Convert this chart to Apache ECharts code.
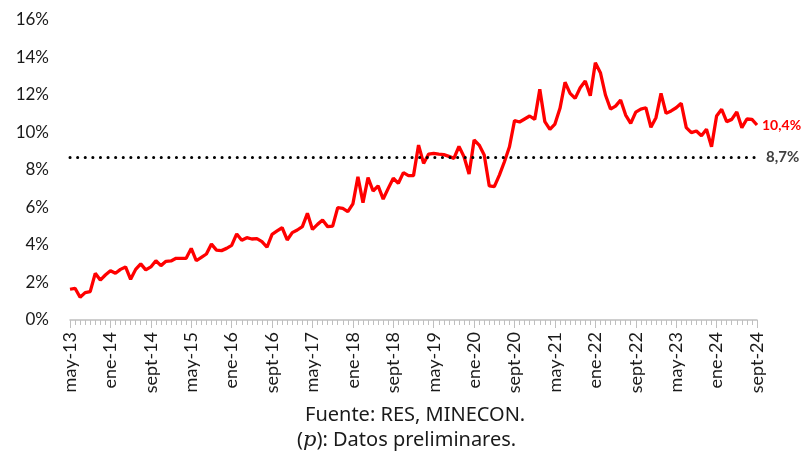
<!DOCTYPE html>
<html>
<head>
<meta charset="utf-8">
<script src="https://cdn.jsdelivr.net/npm/echarts@6/dist/echarts.min.js"></script>
<style>
  html, body { margin: 0; padding: 0; background: #fff; }
  #chart { width: 803px; height: 458px; }
</style>
</head>
<body>
<div id="chart"></div>
<script>
// meses: may-13 .. sept-24
var mesesNombre = ['ene', 'feb', 'mar', 'abr', 'may', 'jun', 'jul', 'ago', 'sept', 'oct', 'nov', 'dic'];
var meses = [];
for (var a = 2013; a <= 2024; a++) {
    for (var m = 0; m < 12; m++) {
        if (a === 2013 && m < 4) continue;
        if (a === 2024 && m > 8) continue;
        meses.push(mesesNombre[m] + '-' + String(a).slice(2));
    }
}

// tasa (%)
var tasa = [
    1.64, 1.69, 1.21, 1.46, 1.51, 2.49, 2.13, 2.40, 2.63, 2.49, 2.70, 2.83,
    2.17, 2.70, 2.99, 2.67, 2.83, 3.16, 2.90, 3.13, 3.15, 3.29, 3.29, 3.29,
    3.82, 3.16, 3.34, 3.52, 4.05, 3.73, 3.70, 3.82, 3.98, 4.59, 4.25, 4.39,
    4.32, 4.34, 4.18, 3.88, 4.57, 4.75, 4.92, 4.27, 4.66, 4.80, 4.98, 5.69,
    4.83, 5.10, 5.33, 4.98, 5.01, 5.99, 5.95, 5.78, 6.19, 7.64, 6.26, 7.59,
    6.88, 7.15, 6.45, 7.02, 7.56, 7.29, 7.86, 7.70, 7.70, 9.33, 8.35, 8.85,
    8.89, 8.85, 8.82, 8.73, 8.62, 9.26, 8.71, 7.79, 9.60, 9.33, 8.80, 7.15,
    7.11, 7.73, 8.44, 9.24, 10.63, 10.56, 10.72, 10.88, 10.70, 12.30, 10.58, 10.17,
    10.45, 11.29, 12.68, 12.09, 11.82, 12.39, 12.75, 11.96, 13.72, 13.19, 12.00, 11.25,
    11.41, 11.73, 10.93, 10.49, 11.09, 11.25, 11.32, 10.28, 10.79, 12.09, 11.02, 11.15,
    11.32, 11.56, 10.26, 9.99, 10.08, 9.83, 10.17, 9.24, 10.88, 11.24, 10.58, 10.70,
    11.09, 10.26, 10.72, 10.70, 10.40
];

var promedio = 8.7;
var yTicks = [0, 2, 4, 6, 8, 10, 12, 14, 16];

var chart = echarts.init(document.getElementById('chart'));

var option = {
    backgroundColor: '#fff',
    animation: false,
    grid: { left: 70, right: 46, top: 20, bottom: 138 },
    xAxis: [{
        type: 'category',
        data: meses,
        boundaryGap: false,
        axisLine: { lineStyle: { color: '#bfbfbf', width: 1.5 } },
        axisTick: { interval: 0, length: 5, lineStyle: { color: '#bfbfbf' } },
        axisLabel: {
            interval: 7,
            rotate: 90,
            margin: 12,
            color: '#1a1a1a',
            fontSize: 18,
            fontFamily: 'Lato'
        }
    }, {
        type: 'category',
        data: meses,
        boundaryGap: false,
        position: 'bottom',
        axisLine: { show: false },
        axisTick: { interval: 7, length: 8, lineStyle: { color: '#bfbfbf' } },
        axisLabel: { show: false }
    }],
    yAxis: {
        type: 'value',
        min: yTicks[0],
        max: yTicks[yTicks.length - 1],
        interval: 2,
        splitLine: { show: false },
        axisLine: { show: false },
        axisTick: { show: false },
        axisLabel: {
            margin: 21,
            color: '#1a1a1a',
            fontSize: 17,
            fontFamily: 'Lato',
            formatter: function (v) { return v + '%'; }
        }
    },
    series: [{
        type: 'line',
        data: tasa,
        showSymbol: false,
        symbol: 'none',
        lineStyle: { color: '#ff0000', width: 3.3 },
        endLabel: {
            show: true,
            distance: 5,
            color: '#ff0000',
            fontWeight: 'bold',
            fontSize: 14,
            fontFamily: 'Lato',
            formatter: function (p) { return p.value.toFixed(1).replace('.', ',') + '%'; }
        },
        markLine: {
            silent: true,
            symbol: 'none',
            lineStyle: { color: '#000', width: 3, type: [0.1, 7.5], cap: 'round' },
            label: {
                position: 'end',
                distance: 9,
                color: '#404040',
                fontWeight: 'bold',
                fontSize: 15,
                fontFamily: 'Lato',
                formatter: String(promedio).replace('.', ',') + '%'
            },
            data: [{ yAxis: promedio }]
        }
    }],
    graphic: [{
        type: 'text',
        left: 305,
        top: 405,
        style: {
            text: 'Fuente: RES, MINECON.',
            fill: '#1a1a1a',
            fontSize: 20,
            fontFamily: 'Noto Sans'
        }
    }, {
        type: 'text',
        top: 430,
        left: 297,
        style: {
            text: '{p|(}{i|p}{p|): Datos preliminares.}',
            rich: {
                p: { fill: '#1a1a1a', fontSize: 20, fontFamily: 'Noto Sans' },
                i: { fill: '#1a1a1a', fontSize: 21, fontFamily: 'DejaVu Serif', fontStyle: 'italic' }
            }
        }
    }]
};

chart.setOption(option);
window.addEventListener('resize', function () {
    chart.resize();
});
</script>
</body>
</html>
